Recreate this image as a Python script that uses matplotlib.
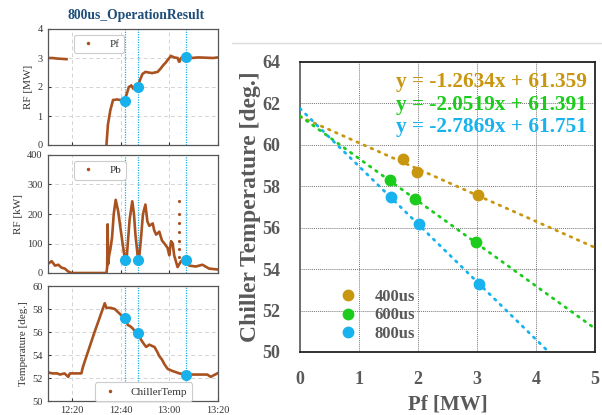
import numpy as np
import matplotlib
matplotlib.use("Agg")
import matplotlib.pyplot as plt
from matplotlib.lines import Line2D

nan = np.nan

# ---------------- left panels: time series (minutes after 12:00) ----------------
time_ticks = [20, 40, 60, 80]
time_labels = ["12:20", "12:40", "13:00", "13:20"]

pf_t = [10, 12, 14, 16, 17.8, nan, 34.2, 34.8, 35.8, 36.9, 38.5, 40, 41.6, 42.5, 43.4,
        44.4, 45.2, 46, 47.1, 48, 49, 50.2, 51.5, 53, 54, 55.2, 56.6, 57.5, 58.6, 59.5,
        60.7, 62, 63.4, 64.1, 64.8, 66.8, 69, 72, 75, 78, 80]
pf_v = [3.0, 3.0, 2.98, 2.97, 2.96, nan, 0.0, 0.7, 1.2, 1.55, 1.57, 1.55, 1.55, 1.75, 2.0,
        2.05, 1.95, 2.0, 2.0, 2.25, 2.45, 2.52, 2.5, 2.48, 2.5, 2.52, 2.65, 2.75, 2.85, 2.95,
        3.07, 3.02, 3.0, 2.85, 3.0, 3.03, 3.0, 3.02, 3.01, 3.0, 3.02]

pb_t = [10, 11.7, 13.1, 14.4, 15.8, 17.1, 18.5, 19.9, 34.2, 34.5, 34.7, 34.9, 35.3, 35.8,
        36.5, 37.2, 38.0, 39.0, 40.0, 41.0, 41.9, 42.6, 43.7, 44.8, 45.5, 46.1, 47.0, 47.5,
        48.4, 49.2, 50.2, 51.0, 51.8, 53.2, 53.8, 54.6, 55.9, 57.0, 58.0, 59.3, 60.0, 60.7,
        61.4, 62.0, 62.7, 63.4, 64.8, 66.8, 68.2, 70.9, 73.6, 76.3, 79.7]
pb_v = [30, 40, 25, 28, 18, 15, 5, 0, 0, 20, 165, 30, 60, 80,
        120, 200, 248, 210, 150, 90, 40, 60, 180, 243, 200, 130, 60, 40,
        120, 200, 232, 175, 160, 168, 145, 130, 140, 110, 100, 85, 60, 108,
        100, 60, 40, 20, 40, 45, 25, 22, 28, 15, 12]
pb_spike_t = [63.8, 63.8, 63.8, 63.8, 63.8, 63.8, 63.8]
pb_spike_v = [245, 200, 170, 140, 110, 80, 55]

ct_t = [10, 12, 14, 15.1, 17, 18.5, 19.2, 21, 23.9, 24.6, 29, 33.5, 34.2, 36, 37.6, 39.6,
        40.5, 41.9, 43.0, 44.0, 45.0, 46.2, 47.4, 48.2, 49.1, 50.5, 51.8, 52.8, 53.9, 55.0,
        55.9, 57.0, 58.0, 59.3, 60.3, 61.4, 62.8, 64.1, 67.0, 70, 72.2, 75.6, 77.0, 79.7]
ct_v = [52.5, 52.4, 52.4, 52.3, 52.4, 52.1, 52.4, 52.4, 52.4, 53.0, 55.8, 58.5, 58.1, 58.1,
        58.0, 57.6, 57.4, 57.2, 56.6, 56.5, 56.3, 56.0, 55.9, 55.4, 55.1, 54.7, 54.9, 54.8,
        54.7, 54.3, 53.9, 53.6, 53.2, 52.8, 52.7, 52.6, 52.5, 52.4, 52.3, 52.3, 52.3, 52.3,
        52.1, 52.4]

op_t = [41.9, 47.3, 66.9]
op_pf = [1.53, 2.0, 3.03]
op_pb = [45, 45, 45]
op_ct = [57.2, 55.9, 52.3]

# ---------------- right panel: chiller temperature vs Pf ----------------
series_names = ["400us", "600us", "800us"]
pf_400 = [1.75, 1.98, 3.01]
temp_400 = [59.3, 58.7, 57.6]
pf_600 = [1.53, 1.95, 2.98]
temp_600 = [58.3, 57.4, 55.3]
pf_800 = [1.54, 2.02, 3.04]
temp_800 = [57.5, 56.2, 53.3]
slopes = [-1.2634, -2.0519, -2.7869]
intercepts = [61.359, 61.391, 61.751]

series_colors = ["#c8960f", "#1ccc1c", "#18b2ee"]
brown = "#a9511f"
opblue = "#19b1ec"
serif = ["Liberation Serif", "DejaVu Serif"]
plt.rcParams["font.family"] = serif

fig = plt.figure(figsize=(6.02, 4.15), dpi=100)

# light frame line of the slide
fig.add_artist(Line2D([232 / 602, 1.0], [1 - 43 / 415, 1 - 43 / 415],
                      color="#dcdcdc", lw=1.0))

fig.text(136 / 602, 1 - 15 / 415, "800us_OperationResult", ha="center", va="center",
         fontsize=9.8, fontweight="bold", color="#1f4e79")

W, H = 602, 415
def ax_rect(l, t, r, b):
    return [l / W, 1 - b / H, (r - l) / W, (b - t) / H]

ax1 = fig.add_axes(ax_rect(47.5, 29, 218, 145))
ax2 = fig.add_axes(ax_rect(47.5, 155, 218, 273))
ax3 = fig.add_axes(ax_rect(47.5, 286, 218, 401))

def style_left(ax, ylim, yticks, ylabel):
    ax.set_xlim(10, 80)
    ax.set_ylim(*ylim)
    ax.set_yticks(yticks)
    ax.set_xticks(time_ticks)
    ax.grid(True, color="#d4d4d4", linestyle=(0, (4, 3)), lw=0.7)
    ax.set_axisbelow(True)
    for s in ax.spines.values():
        s.set_color("#555555")
        s.set_linewidth(0.9)
    ax.tick_params(axis="both", labelsize=7.5, colors="#333333", length=2, direction="in")
    ax.set_ylabel(ylabel, fontsize=8, color="#333333", labelpad=3)
    for x in op_t:
        ax.axvline(x, color=opblue, lw=0.9, linestyle=(0, (1, 1)))

style_left(ax1, (0, 4), [0, 1, 2, 3, 4], "RF [MW]")
style_left(ax2, (0, 400), [0, 100, 200, 300, 400], "RF [kW]")
style_left(ax3, (50, 60), [50, 52, 54, 56, 58, 60], "Temperature [deg.]")
ax1.set_xticklabels([])
ax2.set_xticklabels([])
ax3.set_xticklabels(time_labels)

ax1.plot(pf_t, pf_v, color=brown, lw=1.9, solid_joinstyle="miter")
ax2.plot(pb_t, pb_v, color=brown, lw=1.9)
ax2.plot(pb_spike_t, pb_spike_v, ".", color=brown, ms=2.5)
ax3.plot(ct_t, ct_v, color=brown, lw=1.9)

ax1.plot(op_t, op_pf, "o", color=opblue, ms=7, zorder=5, clip_on=False)
ax2.plot(op_t, op_pb, "o", color=opblue, ms=7, zorder=5, clip_on=False)
ax3.plot(op_t, op_ct, "o", color=opblue, ms=7, zorder=5, clip_on=False)

def small_legend(ax, label, anchor, loc):
    h = Line2D([], [], marker=".", ms=3, color=brown, linestyle="none")
    leg = ax.legend([h], [label], loc=loc, bbox_to_anchor=anchor, fontsize=8,
                    frameon=True, fancybox=True, handlelength=1.8, handletextpad=1.0,
                    borderpad=0.4, borderaxespad=0.0, edgecolor="#cccccc", framealpha=1)
    leg.get_frame().set_linewidth(0.8)
    for t in leg.get_texts():
        t.set_color("#333333")

small_legend(ax1, "Pf", (0.155, 0.95), "upper left")
small_legend(ax2, "Pb", (0.155, 0.95), "upper left")
small_legend(ax3, "ChillerTemp", (0.28, 0.0), "lower left")

# ---------------- right panel ----------------
axr = fig.add_axes(ax_rect(300, 62, 595, 352))
axr.set_xlim(0, 5)
axr.set_ylim(50, 64)
axr.set_xticks([0, 1, 2, 3, 4, 5])
axr.set_yticks([50, 52, 54, 56, 58, 60, 62, 64])
axr.grid(True, color="#777777", linestyle=(0, (1, 1)), lw=0.7)
axr.set_axisbelow(True)
for s in axr.spines.values():
    s.set_color("#222222")
    s.set_linewidth(1.3)
axr.spines["left"].set_color("#666666")
axr.tick_params(axis="both", length=0, pad=14, labelsize=13, colors="#595959")
for lab in axr.get_xticklabels() + axr.get_yticklabels():
    lab.set_fontweight("bold")
axr.set_xlabel("Pf [MW]", fontsize=15, fontweight="bold", color="#595959", labelpad=4)
axr.set_ylabel("Chiller Temperature [deg.]", fontsize=17, fontweight="bold",
               color="#595959", labelpad=1)

xs = np.array([0.0, 5.0])
pfs = [pf_400, pf_600, pf_800]
temps = [temp_400, temp_600, temp_800]
handles = []
for name, px, ty, m, b, c in zip(series_names, pfs, temps, slopes, intercepts, series_colors):
    axr.plot(xs, m * xs + b, color=c, lw=2.0, linestyle=(0, (0.6, 2.2)),
             dash_capstyle="round", zorder=3)
    h, = axr.plot(px, ty, "o", color=c, ms=7.5, linestyle="none", zorder=4, label=name)
    handles.append(h)

eq_y = [63.03, 61.93, 60.87]
for m, b, c, y in zip(slopes, intercepts, series_colors, eq_y):
    axr.text(4.86, y, f"y = {m:.4f}x + {b:.3f}", ha="right", va="center",
             fontsize=15.3, fontweight="bold", color=c)

leg = axr.legend(handles=handles, loc="lower left", bbox_to_anchor=(0.135, 0.035),
                 frameon=False, fontsize=12, handlelength=1.0, handletextpad=1.1,
                 labelspacing=0.15, borderpad=0.0, borderaxespad=0.0, markerscale=1.0)
for t in leg.get_texts():
    t.set_fontweight("bold")
    t.set_color("#595959")

fig.savefig("out.png", dpi=100)
